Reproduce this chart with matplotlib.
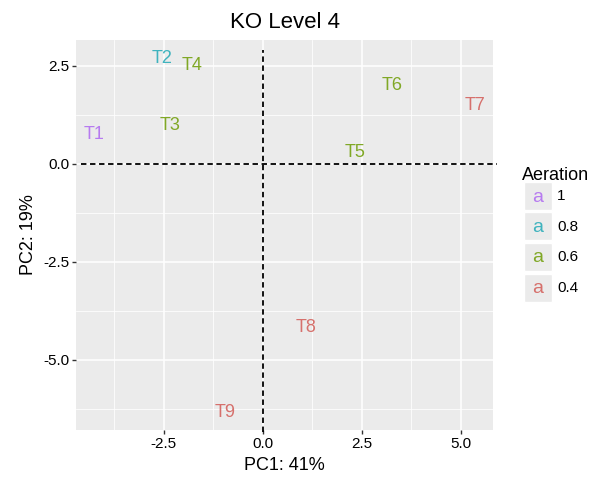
import numpy as np
import matplotlib
matplotlib.use("Agg")
import matplotlib.pyplot as plt
from matplotlib.patches import Rectangle
import matplotlib.ticker as ticker

plt.rcParams['font.family'] = ['Liberation Sans', 'DejaVu Sans']

# sample scores
labels = ["T1", "T2", "T3", "T4", "T5", "T6", "T7", "T8", "T9"]
pc1 = [-4.27, -2.55, -2.35, -1.79, 2.32, 3.26, 5.35, 1.09, -0.96]
pc2 = [0.74, 2.68, 0.97, 2.50, 0.28, 1.99, 1.48, -4.18, -6.35]
aeration = ["1", "0.8", "0.6", "0.6", "0.6", "0.6", "0.4", "0.4", "0.4"]

levels = ["1", "0.8", "0.6", "0.4"]
colours = {"1": "#B77BF0", "0.8": "#3FB3BE", "0.6": "#80A826", "0.4": "#D6706C"}

fig = plt.figure(figsize=(6.06, 4.78), dpi=100)
W, H = 606, 478
# panel in pixel coords: left 76, right 493, top 40, bottom 430
ax = fig.add_axes([76 / W, 1 - 430 / H, (493 - 76) / W, (430 - 40) / H])
ax.set_facecolor("#EBEBEB")
for s in ax.spines.values():
    s.set_visible(False)

ax.set_xlim(-4.72, 5.81)
ax.set_ylim(-6.79, 3.16)
ax.xaxis.set_major_locator(ticker.FixedLocator([-2.5, 0, 2.5, 5]))
ax.yaxis.set_major_locator(ticker.FixedLocator([-5, -2.5, 0, 2.5]))
ax.xaxis.set_minor_locator(ticker.FixedLocator([-3.75, -1.25, 1.25, 3.75]))
ax.yaxis.set_minor_locator(ticker.FixedLocator([-6.25, -3.75, -1.25, 1.25]))
ax.xaxis.set_major_formatter(ticker.FormatStrFormatter("%.1f"))
ax.yaxis.set_major_formatter(ticker.FormatStrFormatter("%.1f"))
ax.grid(which="major", color="white", lw=1.1)
ax.grid(which="minor", color="white", lw=0.55)
ax.set_axisbelow(True)
ax.tick_params(which="major", length=3, width=1, color="#333333", labelsize=11, labelcolor="black", pad=2)
ax.tick_params(which="minor", length=0)

# dashed reference lines
ax.plot([0, 0], [-6.85, 2.9], ls=(0, (3, 2)), color="black", lw=1.3, clip_on=False)
ax.plot([-4.6, 5.9], [0, 0], ls=(0, (3, 2)), color="black", lw=1.3, clip_on=False)

for lab, x, y, a in zip(labels, pc1, pc2, aeration):
    ax.text(x, y, lab, color=colours[a], fontsize=13, ha="center", va="center")

ax.set_xlabel("PC1: 41%", fontsize=13, labelpad=4)
ax.set_ylabel("PC2: 19%", fontsize=13, labelpad=4)
ax.set_title("KO Level 4", fontsize=16, pad=9)

# legend
fig.text(522 / W, 1 - 175 / H, "Aeration", fontsize=13, ha="left", va="center")
for i, lev in enumerate(levels):
    cy = 196 + i * 30.5
    fig.add_artist(Rectangle((524 / W, 1 - (cy + 14) / H), 28 / W, 28 / H,
                             transform=fig.transFigure, facecolor="#EBEBEB", edgecolor="white", lw=1))
    fig.text(538 / W, 1 - (cy + 1) / H, "a", color=colours[lev], fontsize=14, ha="center", va="center")
    fig.text(557 / W, 1 - cy / H, lev, fontsize=11, ha="left", va="center")

fig.savefig("out.png", dpi=100)
